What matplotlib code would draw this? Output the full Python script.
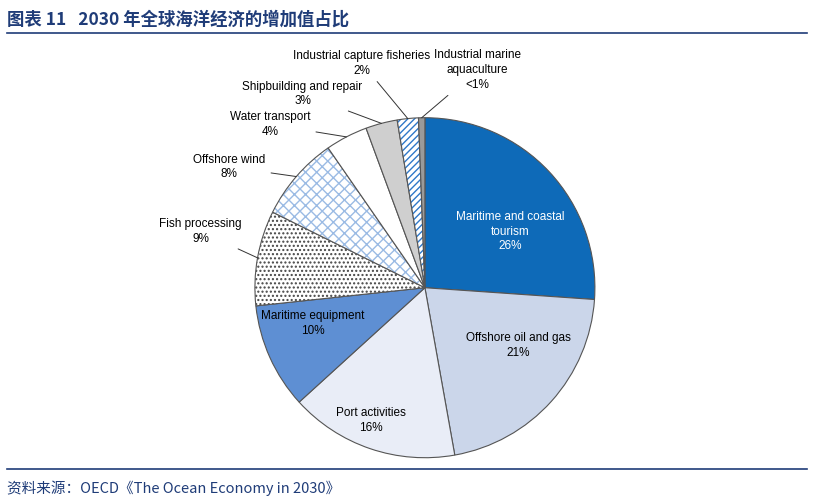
import matplotlib
matplotlib.use("Agg")
import matplotlib.pyplot as plt
import numpy as np

labels = ["Maritime and coastal\ntourism", "Offshore oil and gas", "Port activities",
          "Maritime equipment", "Fish processing", "Offshore wind", "Water transport",
          "Shipbuilding and repair", "Industrial capture fisheries", "Industrial marine\naquaculture"]
values = [26, 21, 16, 10, 9, 8, 4, 3, 2, 0.6]
pct_text = ["26%", "21%", "16%", "10%", "9%", "8%", "4%", "3%", "2%", "<1%"]
colors = ["#0e6ab8", "#cbd6ea", "#e9edf7", "#5e8fd3", "#ffffff", "#ffffff", "#ffffff",
          "#cfcfcf", "#ffffff", "#9a9a9a"]
hatches = [None, None, None, None, "....", "xxx", None, None, "/////", None]
hatch_colors = ["none"] * 4 + ["#444444", "#9bbbe4", "none", "none", "#2f78c8", "none"]

plt.rcParams['font.family'] = ['Liberation Sans Narrow', 'Liberation Sans', 'DejaVu Sans']
fig = plt.figure(figsize=(8.14, 5.03), dpi=100)

fig.text(0.008, 0.962, "图表 11   2030 年全球海洋经济的增加值占比", fontsize=12.5, fontweight='bold',
         color="#1f3c78", family=['Noto Sans CJK SC', 'DejaVu Sans'], va='center')
fig.add_artist(plt.Line2D([0.008, 0.992], [0.935, 0.935], color="#1f3c78", lw=1.2))
fig.add_artist(plt.Line2D([0.008, 0.992], [0.068, 0.068], color="#1f3c78", lw=1.2))
fig.text(0.008, 0.03, "资料来源：OECD《The Ocean Economy in 2030》", fontsize=10.5, style='italic',
         color="#1f3c78", family=['Noto Sans CJK SC', 'DejaVu Sans'], va='center')

r_px = 170
ax = fig.add_axes([0.522 - r_px / 814, 0.428 - r_px / 503, 2 * r_px / 814, 2 * r_px / 503])
wedges, _ = ax.pie(values, colors=colors, startangle=90, counterclock=False,
                   wedgeprops=dict(edgecolor="#555555", linewidth=0.8))
for w, h, hc in zip(wedges, hatches, hatch_colors):
    if h:
        w.set_hatch(h)
        w._hatch_color = matplotlib.colors.to_rgba(hc)
ax.set_xlim(-1.0, 1.0); ax.set_ylim(-1.0, 1.0)
ax.set_aspect('auto')

inside = {0: (0.5, 0.33, 'white'), 1: (0.55, -0.34, 'black'), 2: (-0.32, -0.78, 'black'),
          3: (-0.66, -0.21, 'black')}
outside = {4: (-1.32, 0.33), 5: (-1.15, 0.71), 6: (-0.91, 0.96), 7: (-0.72, 1.14),
           8: (-0.37, 1.32), 9: (0.31, 1.28)}
for i, w in enumerate(wedges):
    txt = labels[i] + "\n" + pct_text[i]
    if i in inside:
        x, y, c = inside[i]
        ax.text(x, y, txt, ha='center', va='center', fontsize=8.5, color=c, linespacing=1.3)
    else:
        a = np.deg2rad((w.theta1 + w.theta2) / 2)
        x, y = outside[i]
        ax.annotate(txt, xy=(np.cos(a), np.sin(a)), xytext=(x, y), ha='center', va='center',
                    fontsize=8.5, linespacing=1.3, annotation_clip=False,
                    arrowprops=dict(arrowstyle='-', color='#333333', lw=0.7, shrinkA=2, shrinkB=0))
ax.axis('off')
fig.savefig("out.png", dpi=100)
